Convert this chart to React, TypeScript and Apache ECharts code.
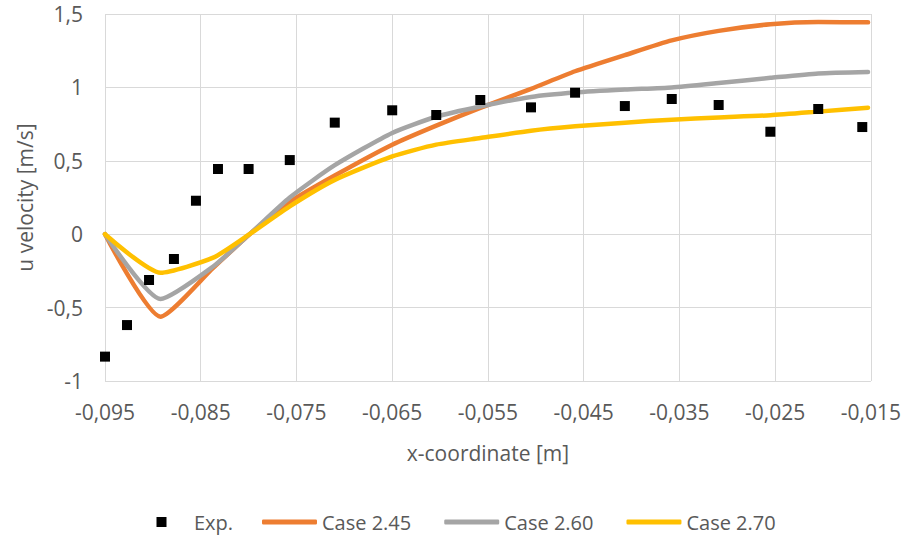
import React, { useEffect, useRef } from "react";
import * as echarts from "echarts";

const expX = [-0.095, -0.0927, -0.0904, -0.0878, -0.0855, -0.0832, -0.08, -0.0757, -0.071, -0.065, -0.0604, -0.0558, -0.0505, -0.0459, -0.0407, -0.0358, -0.0309, -0.0255, -0.0205, -0.0159];
const expY = [-0.834, -0.619, -0.312, -0.169, 0.228, 0.444, 0.444, 0.505, 0.76, 0.844, 0.812, 0.914, 0.864, 0.964, 0.873, 0.921, 0.88, 0.698, 0.853, 0.73];

const simX = [-0.095, -0.0892, -0.0837, -0.0799, -0.0757, -0.071, -0.065, -0.0604, -0.0558, -0.0505, -0.0459, -0.0407, -0.0358, -0.0309, -0.0255, -0.0205, -0.0153];
const case245 = [0, -0.562, -0.23, 0, 0.22, 0.4, 0.61, 0.74, 0.86, 0.99, 1.11, 1.22, 1.32, 1.385, 1.43, 1.445, 1.443];
const case260 = [0, -0.441, -0.22, 0, 0.25, 0.47, 0.69, 0.8, 0.87, 0.935, 0.965, 0.985, 1.0, 1.03, 1.065, 1.095, 1.105];
const case270 = [0, -0.262, -0.16, 0, 0.19, 0.37, 0.53, 0.61, 0.655, 0.705, 0.735, 0.76, 0.78, 0.795, 0.81, 0.835, 0.862];

const seriesNames = ["Exp.", "Case 2.45", "Case 2.60", "Case 2.70"];
const colors = ["#000000", "#ED7D31", "#A5A5A5", "#FFC000"];

const X_MIN = -0.095;
const X_MAX = -0.015;
// axis in shifted units so that ticks start at -0,095
const toAxis = (x: number) => (x - X_MIN) * 1000;
const fromAxis = (v: number) => v / 1000 + X_MIN;

const FONT = "'Open Sans', sans-serif";
const TEXT = "#595959";
const GRID = "#D9D9D9";

export default function App() {
  const ref = useRef<HTMLDivElement>(null);
  useEffect(() => {
    if (!ref.current) return;
    const chart = echarts.init(ref.current, undefined, { renderer: "svg" });
    const lineSeries = [case245, case260, case270].map((vals, i) => ({
      name: seriesNames[i + 1],
      type: "line",
      data: simX.map((x, j) => [toAxis(x), vals[j]]),
      showSymbol: false,
      symbol: "none",
      smooth: 0.2,
      lineStyle: { color: colors[i + 1], width: 4.5, cap: "round", join: "round" },
      itemStyle: { color: colors[i + 1] },
      z: 2,
    }));
    chart.setOption({
      animation: false,
      textStyle: { fontFamily: FONT },
      grid: { left: 105, top: 14, width: 766, height: 367 },
      xAxis: {
        type: "value",
        min: 0,
        max: toAxis(X_MAX),
        interval: 10,
        axisLine: { show: true, lineStyle: { color: GRID, width: 1 } },
        axisTick: { show: false },
        splitLine: { show: true, lineStyle: { color: GRID, width: 1 } },
        axisLabel: {
          color: TEXT,
          fontSize: 21,
          fontFamily: FONT,
          margin: 20,
          formatter: (v: number) => fromAxis(v).toFixed(3).replace(".", ","),
        },
        name: "x-coordinate [m]",
        nameLocation: "middle",
        nameGap: 61,
        nameTextStyle: { color: TEXT, fontSize: 21, fontFamily: FONT },
      },
      yAxis: {
        type: "value",
        min: -1,
        max: 1.5,
        interval: 0.5,
        axisLine: { show: false },
        axisTick: { show: false },
        splitLine: { show: true, lineStyle: { color: GRID, width: 1 } },
        axisLabel: {
          color: TEXT,
          fontSize: 21,
          fontFamily: FONT,
          margin: 22,
          formatter: (v: number) => String(v).replace(".", ","),
        },
        name: "u velocity [m/s]",
        nameLocation: "middle",
        nameGap: 67,
        nameTextStyle: { color: TEXT, fontSize: 21, fontFamily: FONT },
      },
      legend: [
        {
          left: 134,
          top: 512,
          padding: 0,
          itemWidth: 55,
          itemHeight: 10,
          data: [
            {
              name: seriesNames[0],
              icon: "path://M0,0L0.01,0L0,0.01Z M22.5,0L32.5,0L32.5,10L22.5,10Z M55,10L54.99,10L55,9.99Z",
            },
          ],
          textStyle: { color: TEXT, fontSize: 20, fontFamily: FONT },
        },
        {
          left: 262,
          top: 512,
          padding: 0,
          itemWidth: 55,
          itemHeight: 5,
          itemGap: 33,
          icon: "roundRect",
          data: seriesNames.slice(1),
          textStyle: { color: TEXT, fontSize: 20, fontFamily: FONT },
        },
      ],
      series: [
        {
          name: seriesNames[0],
          type: "scatter",
          symbol: "rect",
          symbolSize: 10,
          data: expX.map((x, j) => [toAxis(x), expY[j]]),
          itemStyle: { color: colors[0], opacity: 1 },
          z: 3,
        },
        ...lineSeries,
      ],
    });
    return () => chart.dispose();
  }, []);
  return <div ref={ref} style={{ width: 904, height: 537, position: "absolute", left: 0, top: 0 }} />;
}
